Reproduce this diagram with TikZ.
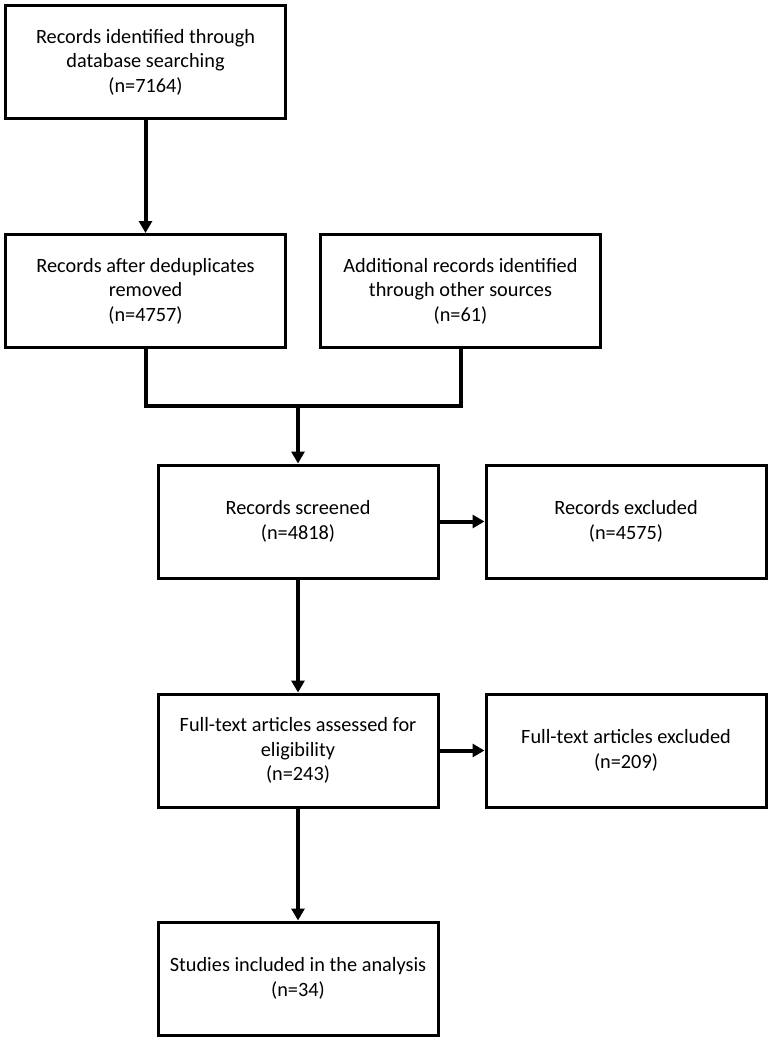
\documentclass[tikz,border=0pt]{standalone}
\usepackage{fontspec}
\setmainfont{Carlito}
\usetikzlibrary{positioning, arrows.meta, calc}
\tikzset{
    x=1pt, y=-1pt, % pixel like units, y runs downwards
    >={Triangle[length=12pt, width=13pt]}, % filled arrow heads
    block/.style={draw, line width=3pt, minimum width=280pt, minimum height=113pt,
        align=center, font=\fontsize{20.3}{24.5}\selectfont, outer sep=1.5pt}, % the boxes
    flow/.style={line width=4pt}, % the connectors
}
\begin{document}
\begin{tikzpicture}
            \useasboundingbox (0,0) rectangle (774,1044);
            \node[block] (ident) at (145.5,62) {Records identified through\\database searching\\(n=7164)};
            \node[block, below=113pt of ident] (dedup) {Records after deduplicates\\removed\\(n=4757)};
            \node[block, right=32pt of dedup] (other) {Additional records identified\\through other sources\\(n=61)};
            \node[block] (screen) at (298,521.5) {Records screened\\(n=4818)};
            \node[block, right=45pt of screen] (excl) {Records excluded\\(n=4575)};
            \node[block, below=113pt of screen] (full) {Full-text articles assessed for\\eligibility\\(n=243)};
            \node[block, right=45pt of full] (fullex) {Full-text articles excluded\\(n=209)};
            \node[block, below=112pt of full] (incl) {Studies included in the analysis\\(n=34)};
            \coordinate (join) at (298,406);

            \draw[flow, line join=miter] (dedup.south) |- (join) -| (other.south);
            \path[flow, ->]
                (ident) edge (dedup)
                (join) edge (screen)
                (screen) edge (excl)
                (screen) edge (full)
                (full) edge (fullex)
                (full) edge (incl);
        \end{tikzpicture}
\end{document}
